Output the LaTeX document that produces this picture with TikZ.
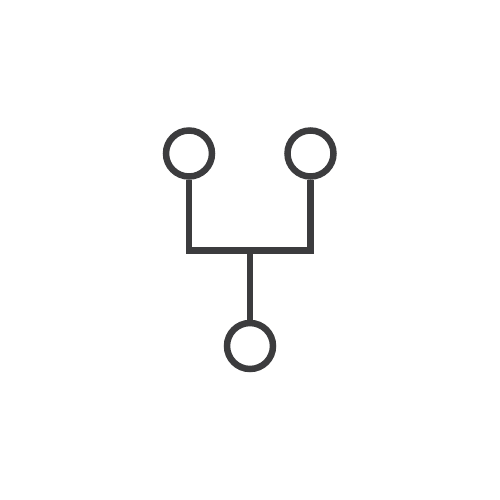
\documentclass[tikz,border=0pt]{standalone}
\definecolor{ic}{HTML}{3C3C3E}
\begin{document}
\begin{tikzpicture}[x=1pt,y=-1pt,
  dot/.style={circle,draw=ic,line width=6.5pt,minimum size=46pt,inner sep=0pt},
  wire/.style={draw=ic,line width=6.5pt,line join=miter}]
\useasboundingbox (0,0) rectangle (500,500);
\node[dot] (a) at (189,153.5) {};
\node[dot] (b) at (310.5,153.5) {};
\node[dot] (c) at (250,346) {};
\coordinate (j) at (250,250.5);
\draw[wire] (a.south) |- (j) -| (b.south);
\draw[wire] (j) -- (c.north);
\end{tikzpicture}
\end{document}
